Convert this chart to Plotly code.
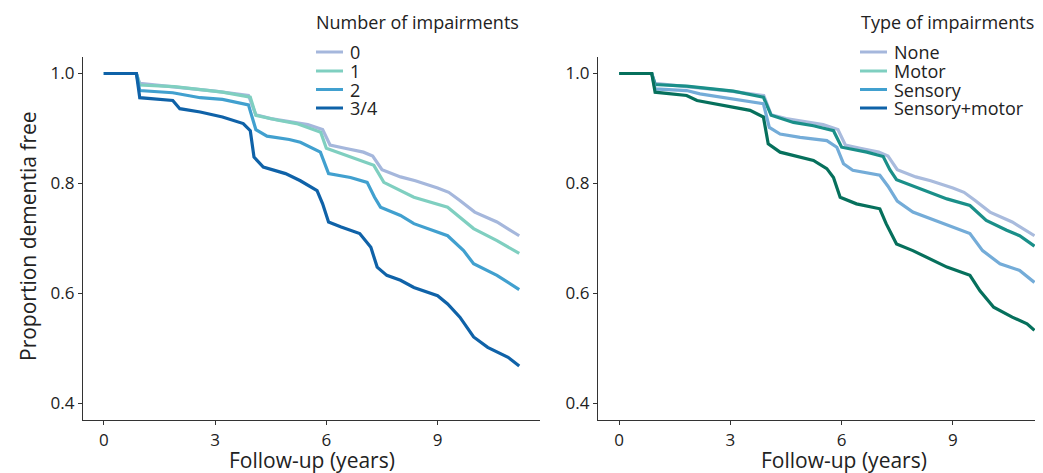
import plotly.graph_objects as go

# ---------------- data ----------------
years_ticks = [0, 3, 6, 9]
prop_ticks = [0.4, 0.6, 0.8, 1.0]

# Left panel: number of impairments
n_labels = ["0", "1", "2", "3/4"]
zero_t = [0, 0.88, 0.97, 2.0, 3.0, 3.9, 4.1, 4.5, 5.0, 5.5, 5.9, 6.1, 6.5, 7.0, 7.25, 7.5, 8.0, 8.4, 9.0, 9.3, 9.6, 10.0, 10.6, 11.2]
zero_s = [1.0, 1.0, 0.982, 0.975, 0.968, 0.960, 0.925, 0.918, 0.912, 0.907, 0.898, 0.870, 0.864, 0.857, 0.850, 0.825, 0.812, 0.805, 0.792, 0.784, 0.769, 0.748, 0.730, 0.705]
one_t = [0, 0.88, 0.97, 1.9, 3.2, 3.95, 4.1, 4.7, 5.2, 5.85, 6.0, 6.65, 7.28, 7.55, 8.36, 9.27, 9.6, 9.97, 10.6, 11.2]
one_s = [1.0, 1.0, 0.979, 0.976, 0.966, 0.957, 0.924, 0.915, 0.909, 0.893, 0.864, 0.848, 0.833, 0.802, 0.775, 0.757, 0.739, 0.718, 0.696, 0.673]
two_t = [0, 0.88, 0.97, 1.86, 2.6, 3.2, 3.9, 4.1, 4.4, 5.0, 5.3, 5.84, 6.06, 6.65, 7.1, 7.3, 7.46, 8.0, 8.36, 9.27, 9.7, 9.97, 10.6, 11.2]
two_s = [1.0, 1.0, 0.969, 0.965, 0.956, 0.953, 0.943, 0.898, 0.886, 0.880, 0.875, 0.857, 0.818, 0.811, 0.802, 0.775, 0.757, 0.742, 0.727, 0.705, 0.678, 0.654, 0.633, 0.607]
three_t = [0, 0.88, 0.97, 1.86, 2.05, 2.6, 3.2, 3.76, 3.95, 4.05, 4.3, 4.9, 5.3, 5.75, 5.9, 6.06, 6.4, 6.9, 7.2, 7.37, 7.63, 8.0, 8.36, 9.0, 9.27, 9.6, 9.97, 10.35, 10.9, 11.2]
three_s = [1.0, 1.0, 0.956, 0.951, 0.936, 0.930, 0.921, 0.909, 0.896, 0.848, 0.830, 0.818, 0.805, 0.787, 0.763, 0.730, 0.721, 0.709, 0.684, 0.648, 0.633, 0.624, 0.611, 0.596, 0.581, 0.557, 0.521, 0.502, 0.484, 0.468]

# Right panel: type of impairments
type_labels = ["None", "Motor", "Sensory", "Sensory+motor"]
none_t = zero_t
none_s = zero_s
motor_t = [0, 0.88, 0.97, 1.82, 3.08, 3.89, 4.1, 4.7, 5.24, 5.78, 6.0, 6.68, 7.12, 7.3, 7.48, 7.92, 8.84, 9.46, 9.9, 10.45, 10.8, 11.2]
motor_s = [1.0, 1.0, 0.980, 0.977, 0.968, 0.957, 0.924, 0.911, 0.905, 0.896, 0.866, 0.857, 0.849, 0.825, 0.807, 0.796, 0.772, 0.760, 0.733, 0.715, 0.705, 0.686]
sensory_t = [0, 0.88, 0.97, 1.82, 2.18, 3.08, 3.89, 4.05, 4.34, 4.88, 5.6, 5.87, 6.05, 6.3, 7.03, 7.25, 7.5, 7.92, 8.84, 9.46, 9.8, 10.27, 10.8, 11.2]
sensory_s = [1.0, 1.0, 0.972, 0.969, 0.963, 0.954, 0.945, 0.902, 0.890, 0.884, 0.878, 0.866, 0.836, 0.824, 0.815, 0.795, 0.768, 0.748, 0.724, 0.709, 0.678, 0.654, 0.642, 0.620]
sm_t = [0, 0.88, 0.97, 1.82, 2.1, 3.08, 3.53, 3.89, 4.02, 4.34, 4.88, 5.24, 5.6, 5.78, 5.96, 6.4, 7.03, 7.2, 7.48, 7.92, 8.84, 9.46, 9.73, 10.1, 10.6, 11.0, 11.2]
sm_s = [1.0, 1.0, 0.966, 0.960, 0.951, 0.939, 0.933, 0.921, 0.872, 0.857, 0.848, 0.842, 0.827, 0.811, 0.775, 0.763, 0.754, 0.727, 0.690, 0.678, 0.648, 0.633, 0.605, 0.575, 0.557, 0.545, 0.533]

# ---------------- styles ----------------
legend_colors = ["#a5b7dc", "#7fcfc0", "#41a0cf", "#0f62a8"]
right_colors = ["#a9bbdd", "#1a8f89", "#74acd8", "#06705c"]
FONT = "Open Sans"
TXT = "#222222"
OFF = 8                      # page body margin of the browser
W, H = 1043 - OFF, 473 - OFF

fig = go.Figure()
left = [(zero_t, zero_s), (one_t, one_s), (two_t, two_s), (three_t, three_s)]
right = [(none_t, none_s), (motor_t, motor_s), (sensory_t, sensory_s), (sm_t, sm_s)]
for (t, s), name, c in zip(left, n_labels, legend_colors):
    fig.add_trace(go.Scatter(x=t, y=s, mode="lines", name=name, showlegend=False,
                             line=dict(color=c, width=3.2), xaxis="x", yaxis="y"))
for (t, s), name, c in zip(right, type_labels, right_colors):
    fig.add_trace(go.Scatter(x=t, y=s, mode="lines", name=name, showlegend=False,
                             line=dict(color=c, width=3.2), xaxis="x2", yaxis="y2"))


def px(x):
    return (x - OFF) / W


def py(y):
    return 1 - (y - OFF) / H


axis_common = dict(showgrid=False, zeroline=False, showline=True, linecolor="#333333", linewidth=1.2,
                   ticks="outside", ticklen=4, tickcolor="#333333", tickwidth=1,
                   tickfont=dict(family=FONT, size=17, color=TXT))
y_dom = [py(420), py(57)]
fig.update_layout(
    width=W, height=H, margin=dict(l=0, r=0, t=0, b=0),
    paper_bgcolor="white", plot_bgcolor="white",
    font=dict(family=FONT, color=TXT),
    xaxis=dict(domain=[px(83), px(540)], range=[-0.56, 11.76], tickvals=years_ticks, anchor="y", **axis_common),
    yaxis=dict(domain=y_dom, range=[0.37, 1.03], tickvals=prop_ticks, tickformat=".1f", anchor="x", **axis_common),
    xaxis2=dict(domain=[px(598), 1.0], range=[-0.57, 11.43], tickvals=years_ticks, anchor="y2", **axis_common),
    yaxis2=dict(domain=y_dom, range=[0.37, 1.03], tickvals=prop_ticks, tickformat=".1f", anchor="x2", **axis_common),
)

ann = []
shapes = []
# axis titles
ann.append(dict(text="Follow-up (years)", x=px(312), y=py(460), xref="paper", yref="paper",
                showarrow=False, xanchor="center", yanchor="middle", font=dict(family=FONT, size=21, color=TXT)))
ann.append(dict(text="Follow-up (years)", x=px(844), y=py(460), xref="paper", yref="paper",
                showarrow=False, xanchor="center", yanchor="middle", font=dict(family=FONT, size=21, color=TXT)))
ann.append(dict(text="Proportion dementia free", x=px(28), y=py(236), xref="paper", yref="paper", textangle=-90,
                showarrow=False, xanchor="center", yanchor="middle", font=dict(family=FONT, size=21, color=TXT)))


# legends (drawn as key lines + labels)
def legend(title, labels, colors, x0, title_x, item_y):
    ann.append(dict(text=title, x=px(title_x), y=py(22), xref="paper", yref="paper", showarrow=False,
                    xanchor="left", yanchor="middle", font=dict(family=FONT, size=18, color=TXT)))
    for lab, c, yy in zip(labels, colors, item_y):
        shapes.append(dict(type="line", xref="paper", yref="paper", x0=px(x0), x1=px(x0 + 27),
                           y0=py(yy), y1=py(yy), line=dict(color=c, width=3)))
        ann.append(dict(text=lab, x=px(x0 + 32), y=py(yy), xref="paper", yref="paper", showarrow=False,
                        xanchor="left", yanchor="middle", font=dict(family=FONT, size=18, color=TXT)))


legend("Number of impairments", n_labels, legend_colors, 316, 314, [52, 71, 89.5, 108])
legend("Type of impairments", type_labels, legend_colors, 860, 859, [52, 71, 89.5, 108])

fig.update_layout(annotations=ann, shapes=shapes)
fig.write_html("out.html")
